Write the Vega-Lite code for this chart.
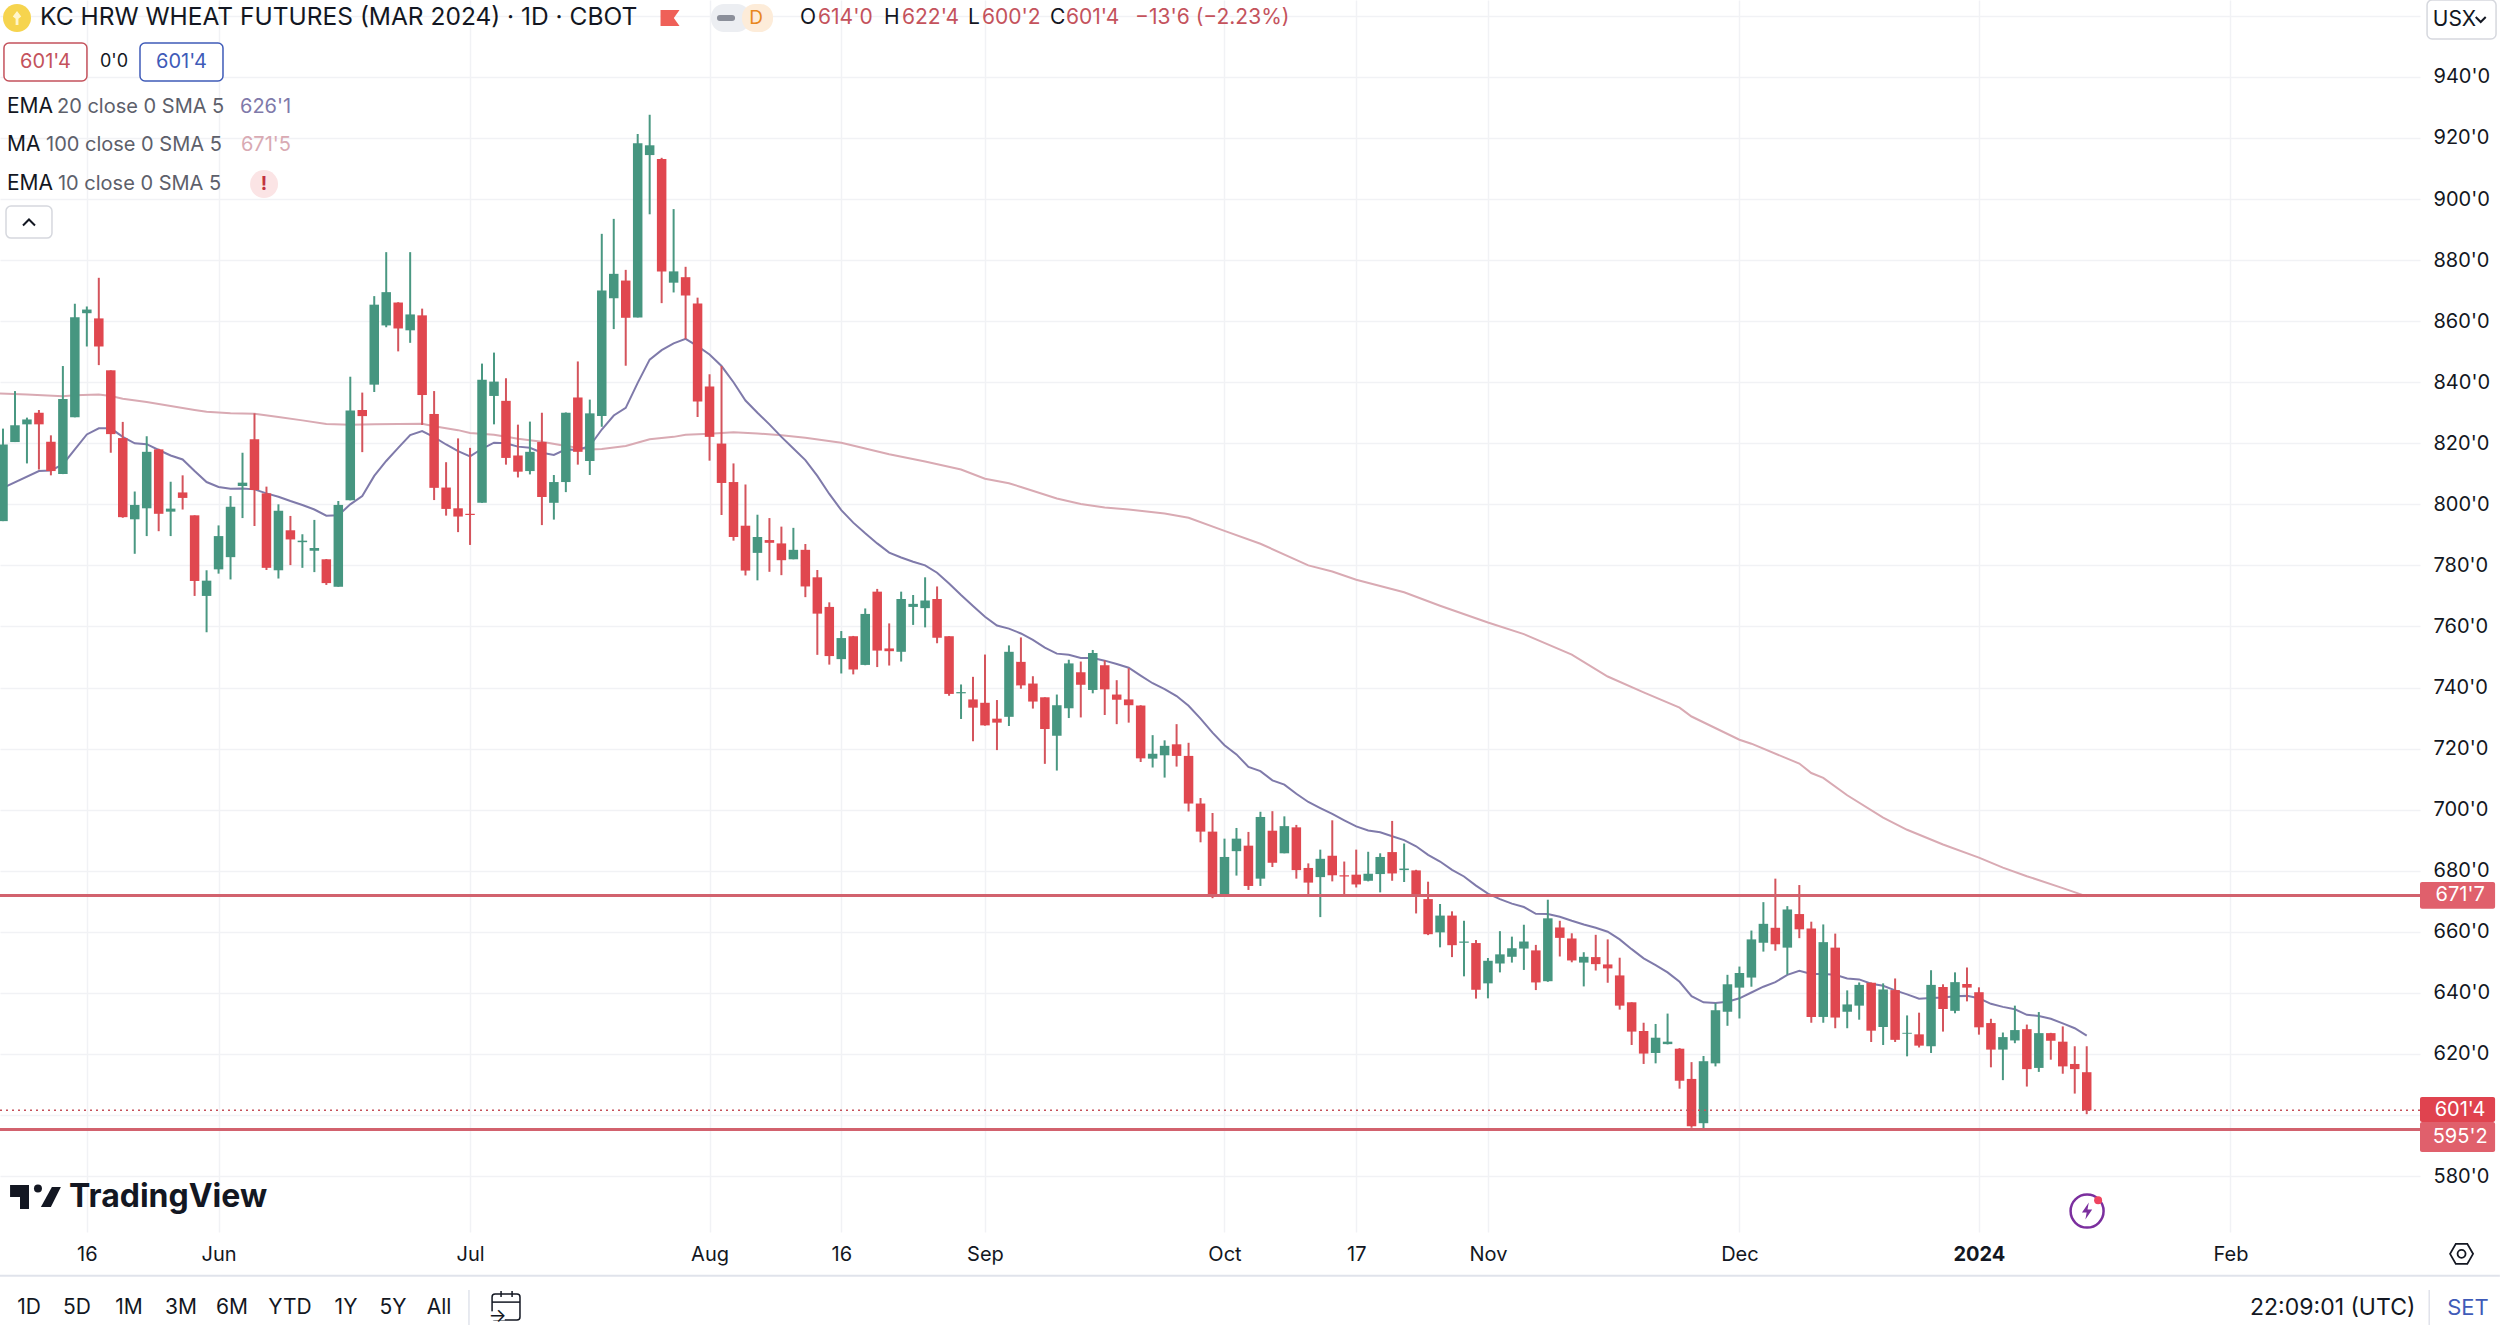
{
  "$schema": "https://vega.github.io/schema/vega-lite/v6.json",
  "width": 2420,
  "height": 1232,
  "autosize": "none",
  "padding": {"left": 0, "top": 0, "right": 80, "bottom": 105},
  "background": "#ffffff",
  "config": {"view": {"stroke": null}, "font": "Inter", "text": {"font": "Inter", "baseline": "middle"}},
  "datasets": {
    "candles": [
      {"bar":0,"open":794.5,"high":824.8,"low":794.5,"close":819.6},
      {"bar":1,"open":820.4,"high":837.1,"low":820.4,"close":825.9},
      {"bar":2,"open":826.2,"high":828.4,"low":813.4,"close":827.8},
      {"bar":3,"open":830,"high":830.9,"low":811.4,"close":826.2},
      {"bar":4,"open":820.5,"high":822.6,"low":809.5,"close":810.9},
      {"bar":5,"open":809.9,"high":845.3,"low":809.9,"close":834.5},
      {"bar":6,"open":828.5,"high":865.7,"low":828.5,"close":861.3},
      {"bar":7,"open":862.6,"high":864.8,"low":851.7,"close":863.8},
      {"bar":8,"open":860.9,"high":874.2,"low":845.6,"close":851.7},
      {"bar":9,"open":843.9,"high":843.9,"low":816.9,"close":823},
      {"bar":10,"open":821.7,"high":827,"low":795.6,"close":795.8},
      {"bar":11,"open":795.1,"high":804.2,"low":783.8,"close":799.8},
      {"bar":12,"open":798.7,"high":822.3,"low":789.6,"close":817.2},
      {"bar":13,"open":818,"high":818.2,"low":791.2,"close":796.9},
      {"bar":14,"open":797.6,"high":807.4,"low":789.6,"close":798.6},
      {"bar":15,"open":803.9,"high":809.5,"low":798.3,"close":802.1},
      {"bar":16,"open":796.4,"high":796.4,"low":770,"close":774.9},
      {"bar":17,"open":770,"high":778.4,"low":758.1,"close":775},
      {"bar":18,"open":778.7,"high":793.1,"low":777.3,"close":789.6},
      {"bar":19,"open":782.7,"high":802.7,"low":775.4,"close":799.2},
      {"bar":20,"open":806,"high":816.9,"low":795.5,"close":807.1},
      {"bar":21,"open":821.3,"high":829.8,"low":792.9,"close":804.7},
      {"bar":22,"open":803.6,"high":805.8,"low":778.5,"close":779.2},
      {"bar":23,"open":778.4,"high":800,"low":775.7,"close":797.9},
      {"bar":24,"open":791.5,"high":796.2,"low":780.1,"close":788.5},
      {"bar":25,"open":787.6,"high":790.2,"low":779.2,"close":788.1},
      {"bar":26,"open":784.8,"high":794.9,"low":777.8,"close":785.7},
      {"bar":27,"open":782,"high":782.1,"low":773.6,"close":774.2},
      {"bar":28,"open":773,"high":801.1,"low":773,"close":799.8},
      {"bar":29,"open":801.3,"high":841.8,"low":801.3,"close":830.7},
      {"bar":30,"open":830.9,"high":836.6,"low":817.1,"close":828.9},
      {"bar":31,"open":839.2,"high":868.2,"low":836.8,"close":865.4},
      {"bar":32,"open":858.6,"high":882.6,"low":858,"close":869.5},
      {"bar":33,"open":866.1,"high":866.2,"low":850.1,"close":857.6},
      {"bar":34,"open":857,"high":882.6,"low":852.9,"close":862.2},
      {"bar":35,"open":861.9,"high":864.1,"low":826,"close":835.8},
      {"bar":36,"open":829.6,"high":837.1,"low":801.4,"close":805.4},
      {"bar":37,"open":805.5,"high":813.8,"low":796.3,"close":798.5},
      {"bar":38,"open":798.7,"high":821.6,"low":790.9,"close":796},
      {"bar":39,"open":796.9,"high":818.5,"low":786.7,"close":796.5},
      {"bar":40,"open":800.5,"high":846.1,"low":800.5,"close":840.8},
      {"bar":41,"open":835.5,"high":849.7,"low":826.2,"close":840.2},
      {"bar":42,"open":833.9,"high":841.3,"low":813,"close":815.2},
      {"bar":43,"open":816,"high":826.1,"low":808.8,"close":810.7},
      {"bar":44,"open":810.9,"high":827.1,"low":809.8,"close":817.2},
      {"bar":45,"open":820.4,"high":830,"low":793.2,"close":802.4},
      {"bar":46,"open":800.5,"high":809.6,"low":795,"close":807.3},
      {"bar":47,"open":807.3,"high":830.1,"low":804,"close":830},
      {"bar":48,"open":835,"high":846.8,"low":813,"close":817.2},
      {"bar":49,"open":814.2,"high":834.3,"low":809.6,"close":829.8},
      {"bar":50,"open":828.9,"high":888.6,"low":825.4,"close":870},
      {"bar":51,"open":867.5,"high":893.5,"low":857.4,"close":875.5},
      {"bar":52,"open":873.3,"high":876.8,"low":845.4,"close":861.1},
      {"bar":53,"open":861.2,"high":921.3,"low":861.2,"close":918.3},
      {"bar":54,"open":914.4,"high":927.6,"low":895,"close":917.6},
      {"bar":55,"open":913.1,"high":913.5,"low":865.9,"close":876.3},
      {"bar":56,"open":872.6,"high":896.7,"low":869.4,"close":876.3},
      {"bar":57,"open":874.4,"high":877.8,"low":854.2,"close":868.4},
      {"bar":58,"open":865.8,"high":867.7,"low":828.6,"close":833.7},
      {"bar":59,"open":838.6,"high":842.6,"low":814.3,"close":822.1},
      {"bar":60,"open":819.9,"high":845.3,"low":796.5,"close":807},
      {"bar":61,"open":807.3,"high":813.4,"low":788.1,"close":789.3},
      {"bar":62,"open":793,"high":806.5,"low":776.7,"close":778.3},
      {"bar":63,"open":784.1,"high":796.6,"low":775.1,"close":789.3},
      {"bar":64,"open":788.3,"high":795.5,"low":777.9,"close":787.4},
      {"bar":65,"open":787.2,"high":792.7,"low":776.8,"close":781.7},
      {"bar":66,"open":782,"high":792.3,"low":782,"close":785.1},
      {"bar":67,"open":785.1,"high":787,"low":769.6,"close":773.1},
      {"bar":68,"open":776.1,"high":778.5,"low":750.7,"close":764.2},
      {"bar":69,"open":766.4,"high":767.9,"low":747.5,"close":750.3},
      {"bar":70,"open":749.3,"high":758.5,"low":744.6,"close":756.2},
      {"bar":71,"open":756.8,"high":756.9,"low":744.3,"close":745.9},
      {"bar":72,"open":747.4,"high":765.9,"low":747.3,"close":764.1},
      {"bar":73,"open":771.4,"high":772.3,"low":746.7,"close":752.1},
      {"bar":74,"open":752.8,"high":761,"low":747.2,"close":751.9},
      {"bar":75,"open":751.7,"high":771.4,"low":748.5,"close":769},
      {"bar":76,"open":766.4,"high":770.3,"low":760.5,"close":767.4},
      {"bar":77,"open":766,"high":776.1,"low":759.7,"close":768.5},
      {"bar":78,"open":769,"high":773.1,"low":754.5,"close":756.3},
      {"bar":79,"open":756.8,"high":756.8,"low":737.3,"close":737.9},
      {"bar":80,"open":738.1,"high":741,"low":729.7,"close":738.5},
      {"bar":81,"open":736.1,"high":743.5,"low":722.4,"close":733.4},
      {"bar":82,"open":735,"high":750.8,"low":727.5,"close":727.6},
      {"bar":83,"open":729.8,"high":735.9,"low":719.5,"close":728.5},
      {"bar":84,"open":730.4,"high":753.8,"low":727.4,"close":751.7},
      {"bar":85,"open":748.4,"high":756.4,"low":739.6,"close":740.7},
      {"bar":86,"open":741.3,"high":743.7,"low":733.1,"close":735.4},
      {"bar":87,"open":736.8,"high":736.8,"low":715,"close":726.4},
      {"bar":88,"open":724.2,"high":737.7,"low":712.8,"close":734.2},
      {"bar":89,"open":733.2,"high":749.1,"low":730,"close":747.9},
      {"bar":90,"open":745,"high":748.5,"low":730.2,"close":740.9},
      {"bar":91,"open":739.2,"high":752.3,"low":738.1,"close":751.3},
      {"bar":92,"open":747.3,"high":748.9,"low":731,"close":739.4},
      {"bar":93,"open":737.7,"high":742.4,"low":728,"close":736},
      {"bar":94,"open":736.1,"high":746.3,"low":728.5,"close":734.2},
      {"bar":95,"open":734.1,"high":734.2,"low":715.6,"close":716.8},
      {"bar":96,"open":716.7,"high":724.4,"low":713.8,"close":718.3},
      {"bar":97,"open":717.8,"high":722.7,"low":710.5,"close":720.9},
      {"bar":98,"open":721.4,"high":728,"low":714.1,"close":717.6},
      {"bar":99,"open":717.6,"high":721.9,"low":699.4,"close":702},
      {"bar":100,"open":702,"high":703.8,"low":689.3,"close":692.8},
      {"bar":101,"open":692.8,"high":698.9,"low":671,"close":671.9},
      {"bar":102,"open":671.9,"high":690.5,"low":671.9,"close":684.5},
      {"bar":103,"open":686.4,"high":694,"low":678.4,"close":690.5},
      {"bar":104,"open":688.2,"high":692.7,"low":673.7,"close":675},
      {"bar":105,"open":677.4,"high":699.3,"low":675,"close":697.6},
      {"bar":106,"open":693.1,"high":699.5,"low":681.2,"close":682.6},
      {"bar":107,"open":685.7,"high":697.8,"low":685.7,"close":694.6},
      {"bar":108,"open":694.2,"high":695,"low":677.4,"close":680.2},
      {"bar":109,"open":680.9,"high":682.4,"low":672.1,"close":676.1},
      {"bar":110,"open":677.9,"high":686.9,"low":664.8,"close":683.9},
      {"bar":111,"open":684.9,"high":696.5,"low":676.5,"close":678.5},
      {"bar":112,"open":678.5,"high":683,"low":672.1,"close":678.1},
      {"bar":113,"open":678.7,"high":686.9,"low":674.5,"close":675.5},
      {"bar":114,"open":676.7,"high":686.2,"low":676.5,"close":679},
      {"bar":115,"open":678.9,"high":685.7,"low":672.9,"close":684.5},
      {"bar":116,"open":686.1,"high":696.3,"low":676.7,"close":679.1},
      {"bar":117,"open":680.2,"high":688.9,"low":676.3,"close":680.7},
      {"bar":118,"open":680.1,"high":680.3,"low":666,"close":671.8},
      {"bar":119,"open":670.7,"high":676.4,"low":658.9,"close":659.2},
      {"bar":120,"open":659.8,"high":669.1,"low":654.9,"close":665.3},
      {"bar":121,"open":665.3,"high":666.7,"low":651.7,"close":655.6},
      {"bar":122,"open":656.4,"high":663.6,"low":645.4,"close":656.8},
      {"bar":123,"open":656.3,"high":657.3,"low":638.1,"close":641},
      {"bar":124,"open":643.1,"high":651.4,"low":638.2,"close":650.5},
      {"bar":125,"open":649.6,"high":660.2,"low":646.7,"close":652.6},
      {"bar":126,"open":651.8,"high":658.4,"low":649.9,"close":654.6},
      {"bar":127,"open":654.5,"high":662.3,"low":647.5,"close":656.8},
      {"bar":128,"open":653.9,"high":655.7,"low":640.9,"close":643.4},
      {"bar":129,"open":643.8,"high":670.5,"low":643.6,"close":664.4},
      {"bar":130,"open":661.4,"high":663.6,"low":651.9,"close":658},
      {"bar":131,"open":657.8,"high":659.5,"low":650,"close":650.6},
      {"bar":132,"open":649.9,"high":653.3,"low":642.1,"close":651.8},
      {"bar":133,"open":651.7,"high":659,"low":647.3,"close":649.4},
      {"bar":134,"open":649.3,"high":657.5,"low":643.3,"close":648},
      {"bar":135,"open":645.7,"high":651.5,"low":634.5,"close":635.8},
      {"bar":136,"open":636.9,"high":636.9,"low":622.9,"close":627.3},
      {"bar":137,"open":627.5,"high":630.2,"low":616.7,"close":620.1},
      {"bar":138,"open":620.3,"high":629.8,"low":616.9,"close":625.3},
      {"bar":139,"open":623.2,"high":633.2,"low":623.1,"close":624},
      {"bar":140,"open":621.7,"high":621.9,"low":608.6,"close":611.2},
      {"bar":141,"open":611.8,"high":617.3,"low":595.8,"close":596.3},
      {"bar":142,"open":597.3,"high":619.3,"low":594.8,"close":617.6},
      {"bar":143,"open":616.9,"high":636.6,"low":615.9,"close":634.3},
      {"bar":144,"open":633.8,"high":645.9,"low":629.2,"close":642.8},
      {"bar":145,"open":641.7,"high":648.6,"low":631.6,"close":646.5},
      {"bar":146,"open":645,"high":660.4,"low":642,"close":657.5},
      {"bar":147,"open":656.4,"high":669.7,"low":653.5,"close":662.6},
      {"bar":148,"open":661.3,"high":677.4,"low":653.8,"close":655.9},
      {"bar":149,"open":654.8,"high":668.4,"low":646,"close":667.3},
      {"bar":150,"open":665.8,"high":675.3,"low":657.9,"close":660.8},
      {"bar":151,"open":661.1,"high":663.3,"low":630.2,"close":632.1},
      {"bar":152,"open":632.1,"high":662.4,"low":630.2,"close":656.6},
      {"bar":153,"open":654.8,"high":659.4,"low":628.4,"close":631.9},
      {"bar":154,"open":633.8,"high":640.8,"low":628.4,"close":636.2},
      {"bar":155,"open":635.8,"high":643.4,"low":631.2,"close":642.6},
      {"bar":156,"open":643.3,"high":643.4,"low":623.9,"close":627.6},
      {"bar":157,"open":628.8,"high":643.1,"low":622.9,"close":641.1},
      {"bar":158,"open":640.9,"high":644.7,"low":623.9,"close":624.6},
      {"bar":159,"open":626.6,"high":632.6,"low":619.2,"close":626.9},
      {"bar":160,"open":626.4,"high":633.5,"low":622.1,"close":622.7},
      {"bar":161,"open":622.5,"high":647.4,"low":620.3,"close":642.6},
      {"bar":162,"open":641.9,"high":642.8,"low":627.3,"close":634.7},
      {"bar":163,"open":634.1,"high":646.7,"low":633.3,"close":643.5},
      {"bar":164,"open":642.9,"high":648.3,"low":637.2,"close":641.7},
      {"bar":165,"open":640.2,"high":641.8,"low":626.3,"close":628.7},
      {"bar":166,"open":630.1,"high":631.5,"low":615.6,"close":621.4},
      {"bar":167,"open":621.4,"high":627,"low":611.4,"close":625.5},
      {"bar":168,"open":624.4,"high":635.8,"low":623.5,"close":627.8},
      {"bar":169,"open":628.1,"high":629.6,"low":609.3,"close":615},
      {"bar":170,"open":615.4,"high":633.7,"low":614.1,"close":626.8},
      {"bar":171,"open":626.8,"high":626.9,"low":618.1,"close":624.3},
      {"bar":172,"open":624,"high":629,"low":613.5,"close":615.9},
      {"bar":173,"open":616.7,"high":622.5,"low":607,"close":615},
      {"bar":174,"open":614,"high":622.5,"low":600.25,"close":601.5}
    ],
    "ema20": [
      {"bar":-0.25,"price":804.8},{"bar":0,"price":805.4},{"bar":3,"price":810.9},{"bar":4,"price":811.1},{"bar":5,"price":813.1},{"bar":6,"price":818},{"bar":7,"price":822.9},{"bar":8,"price":824.9},{"bar":9,"price":824.9},{"bar":10,"price":822.1},
      {"bar":11,"price":820},{"bar":12,"price":819.7},{"bar":13,"price":817.8},{"bar":14,"price":816},{"bar":15,"price":814.7},{"bar":16,"price":810.9},{"bar":17,"price":807.3},{"bar":18,"price":805.7},{"bar":19,"price":805.1},{"bar":20,"price":805.2},
      {"bar":21,"price":804.9},{"bar":22,"price":803.6},{"bar":23,"price":802.5},{"bar":24,"price":801.1},{"bar":25,"price":799.8},{"bar":26,"price":798.3},{"bar":27,"price":796.3},{"bar":28,"price":796.4},{"bar":29,"price":800},{"bar":30,"price":802.7},
      {"bar":31,"price":809.3},{"bar":32,"price":814.2},{"bar":33,"price":818.5},{"bar":34,"price":822.7},{"bar":35,"price":824},{"bar":36,"price":822},{"bar":37,"price":819.6},{"bar":38,"price":817.4},{"bar":39,"price":815.7},{"bar":40,"price":818.2},
      {"bar":41,"price":820.2},{"bar":42,"price":820},{"bar":43,"price":818.9},{"bar":44,"price":818.5},{"bar":45,"price":816.9},{"bar":46,"price":816.2},{"bar":47,"price":818},{"bar":48,"price":817.8},{"bar":49,"price":819.1},{"bar":50,"price":824.5},
      {"bar":51,"price":829.1},{"bar":52,"price":831.6},{"bar":53,"price":839.8},{"bar":54,"price":847.4},{"bar":55,"price":850.5},{"bar":56,"price":852.7},{"bar":57,"price":854.2},{"bar":58,"price":851.8},{"bar":59,"price":849.1},{"bar":60,"price":845.3},
      {"bar":61,"price":840},{"bar":62,"price":834},{"bar":63,"price":830},{"bar":64,"price":826.2},{"bar":65,"price":822.1},{"bar":66,"price":818.3},{"bar":67,"price":814.5},{"bar":68,"price":809.3},{"bar":69,"price":803.4},{"bar":70,"price":798.1},
      {"bar":71,"price":794},{"bar":72,"price":790.5},{"bar":73,"price":787.2},{"bar":74,"price":784.2},{"bar":75,"price":782.6},{"bar":76,"price":781.2},{"bar":77,"price":780},{"bar":78,"price":777.6},{"bar":79,"price":774.1},{"bar":80,"price":770.3},
      {"bar":81,"price":766.7},{"bar":82,"price":763.2},{"bar":83,"price":760.3},{"bar":84,"price":759.3},{"bar":85,"price":757.7},{"bar":86,"price":755.6},{"bar":87,"price":753.1},{"bar":88,"price":751.1},{"bar":89,"price":750.7},{"bar":90,"price":749.7},
      {"bar":91,"price":749.7},{"bar":92,"price":748.8},{"bar":93,"price":747.7},{"bar":94,"price":746.5},{"bar":95,"price":743.9},{"bar":96,"price":741.4},{"bar":97,"price":739.5},{"bar":98,"price":737.2},{"bar":99,"price":734},{"bar":100,"price":729.8},
      {"bar":101,"price":725.2},{"bar":102,"price":721.1},{"bar":103,"price":718.1},{"bar":104,"price":714},{"bar":105,"price":712.6},{"bar":106,"price":709.6},{"bar":107,"price":708.2},{"bar":108,"price":705.2},{"bar":109,"price":702.5},{"bar":110,"price":700.5},
      {"bar":111,"price":698.6},{"bar":112,"price":696.5},{"bar":113,"price":694.5},{"bar":114,"price":693.2},{"bar":115,"price":692.6},{"bar":116,"price":691.3},{"bar":117,"price":690},{"bar":118,"price":688},{"bar":119,"price":685.2},{"bar":120,"price":683},
      {"bar":121,"price":680.3},{"bar":122,"price":678.1},{"bar":123,"price":675.1},{"bar":124,"price":672.5},{"bar":125,"price":670.7},{"bar":126,"price":669.2},{"bar":127,"price":668.1},{"bar":128,"price":665.9},{"bar":129,"price":665.8},{"bar":130,"price":664.9},
      {"bar":131,"price":663.6},{"bar":132,"price":662.4},{"bar":133,"price":661.3},{"bar":134,"price":660},{"bar":135,"price":657.5},{"bar":136,"price":654.3},{"bar":137,"price":651.3},{"bar":138,"price":649.1},{"bar":139,"price":646.7},{"bar":140,"price":643.6},
      {"bar":141,"price":638.9},{"bar":142,"price":636.9},{"bar":143,"price":636.7},{"bar":144,"price":637.1},{"bar":145,"price":638.2},{"bar":146,"price":640.1},{"bar":147,"price":642},{"bar":148,"price":643.5},{"bar":149,"price":645.9},{"bar":150,"price":647.2},
      {"bar":151,"price":646.2},{"bar":152,"price":646.2},{"bar":153,"price":645.9},{"bar":154,"price":644.7},{"bar":155,"price":644.4},{"bar":156,"price":643},{"bar":157,"price":642.3},{"bar":158,"price":640.8},{"bar":159,"price":639.5},{"bar":160,"price":638.1},
      {"bar":161,"price":638.3},{"bar":162,"price":638.5},{"bar":163,"price":638.9},{"bar":164,"price":639},{"bar":165,"price":638.2},{"bar":166,"price":636.4},{"bar":167,"price":635.4},{"bar":168,"price":634.6},{"bar":169,"price":632.8},{"bar":170,"price":632.4},
      {"bar":171,"price":631.5},{"bar":172,"price":630},{"bar":173,"price":628.4},{"bar":174,"price":626}
    ],
    "ma100": [
      {"bar":-0.25,"price":836.3},{"bar":2,"price":836},{"bar":5,"price":835.4},{"bar":6,"price":835.7},{"bar":8,"price":836},{"bar":9,"price":835.5},{"bar":10,"price":834.6},{"bar":12,"price":833.5},{"bar":14,"price":832.2},{"bar":16,"price":830.9},
      {"bar":17,"price":830.3},{"bar":19,"price":829.8},{"bar":21,"price":829.7},{"bar":23,"price":828.6},{"bar":25,"price":827.5},{"bar":27,"price":826.3},{"bar":29,"price":826.1},{"bar":31,"price":826.2},{"bar":33,"price":826.3},{"bar":35,"price":826.4},
      {"bar":36,"price":825.6},{"bar":38,"price":824.3},{"bar":39,"price":823.4},{"bar":41,"price":822.8},{"bar":43,"price":821.5},{"bar":45,"price":820.5},{"bar":47,"price":819.1},{"bar":49,"price":818},{"bar":50,"price":818.1},{"bar":52,"price":819.1},
      {"bar":54,"price":821.3},{"bar":56,"price":822.1},{"bar":57,"price":822.8},{"bar":59,"price":823.1},{"bar":61,"price":823.6},{"bar":63,"price":823.2},{"bar":65,"price":822.6},{"bar":67,"price":821.8},{"bar":70,"price":820.2},{"bar":72,"price":818.3},
      {"bar":74,"price":816.4},{"bar":77,"price":814},{"bar":80,"price":811.4},{"bar":82,"price":808.4},{"bar":84,"price":806.9},{"bar":85,"price":805.7},{"bar":88,"price":801.9},{"bar":90,"price":800.1},{"bar":92,"price":799},{"bar":94,"price":798.3},
      {"bar":97,"price":797},{"bar":99,"price":795.6},{"bar":102,"price":791.3},{"bar":105,"price":787.1},{"bar":109,"price":780},{"bar":111,"price":778},{"bar":113,"price":775.3},{"bar":117,"price":771.2},{"bar":120,"price":766.8},{"bar":124,"price":761.3},
      {"bar":127,"price":757.5},{"bar":131,"price":750.8},{"bar":134,"price":743.6},{"bar":137,"price":738.4},{"bar":140,"price":733.4},{"bar":141,"price":730.5},{"bar":145,"price":722.9},{"bar":146,"price":721.6},{"bar":149,"price":716.7},{"bar":150,"price":715.1},
      {"bar":151,"price":712},{"bar":152,"price":710.4},{"bar":154,"price":704.7},{"bar":157,"price":697.4},{"bar":159,"price":693.4},{"bar":162,"price":688.6},{"bar":165,"price":684.3},{"bar":167,"price":681},{"bar":169,"price":678.2},{"bar":172,"price":674.3},
      {"bar":174,"price":671.6}
    ]
  },
  "data": {"name": "candles"},
  "encoding": {
    "x": {
      "field": "bar",
      "type": "quantitative",
      "scale": {"domain": [-0.2505, 201.83], "nice": false, "zero": false, "padding": 0},
      "axis": {
        "title": null,
        "values": [7, 18, 39, 59, 70, 82, 102, 113, 124, 145, 165, 186],
        "labelExpr": "{'7':'16','18':'Jun','39':'Jul','59':'Aug','70':'16','82':'Sep','102':'Oct','113':'17','124':'Nov','145':'Dec','165':'2024','186':'Feb'}[datum.value]",
        "grid": true,
        "gridColor": "#f1f2f5",
        "gridWidth": 1.5,
        "ticks": false,
        "domain": false,
        "labelFont": "Inter",
        "labelFontSize": 20,
        "labelColor": "#131722",
        "labelPadding": 12,
        "labelOverlap": false,
        "labelFlush": false,
        "labelFontWeight": {"condition": {"test": "datum.value == 165", "value": "bold"}, "value": "normal"}
      }
    },
    "y": {
      "field": "price",
      "type": "quantitative",
      "scale": {"domain": [561.66, 965.19], "nice": false, "zero": false},
      "axis": {
        "title": null,
        "orient": "right",
        "values": [580, 600, 620, 640, 660, 680, 700, 720, 740, 760, 780, 800, 820, 840, 860, 880, 900, 920, 940, 960],
        "labelExpr": "datum.value == 600 || datum.value == 960 ? '' : format(datum.value, 'd') + \"'0\"",
        "grid": true,
        "gridColor": "#f1f2f5",
        "gridWidth": 1.5,
        "ticks": false,
        "domain": false,
        "labelFont": "Inter",
        "labelFontSize": 20,
        "labelColor": "#131722",
        "labelPadding": 13,
        "labelOverlap": false,
        "labelFlush": false
      }
    }
  },
  "layer": [
    {
      "data": {"name": "ma100"},
      "mark": {"type": "line", "color": "#d9aab3", "strokeWidth": 2}
    },
    {
      "data": {"name": "ema20"},
      "mark": {"type": "line", "color": "#7f7aaa", "strokeWidth": 2}
    },
    {
      "mark": {"type": "rule", "strokeWidth": 2},
      "encoding": {
        "y": {
          "field": "low",
          "type": "quantitative",
          "axis": {
            "title": null,
            "orient": "right",
            "values": [580, 600, 620, 640, 660, 680, 700, 720, 740, 760, 780, 800, 820, 840, 860, 880, 900, 920, 940, 960],
            "labelExpr": "datum.value == 600 || datum.value == 960 ? '' : format(datum.value, 'd') + \"'0\"",
            "grid": true,
            "gridColor": "#f1f2f5",
            "gridWidth": 1.5,
            "ticks": false,
            "domain": false,
            "labelFont": "Inter",
            "labelFontSize": 20,
            "labelColor": "#131722",
            "labelPadding": 13,
            "labelOverlap": false,
            "labelFlush": false
          }
        },
        "y2": {"field": "high"},
        "color": {"condition": {"test": "datum.close >= datum.open", "value": "#4a9882"}, "value": "#d4545c"}
      }
    },
    {
      "mark": {"type": "bar", "size": 9.5},
      "encoding": {
        "y": {
          "field": "open",
          "type": "quantitative",
          "axis": {
            "title": null,
            "orient": "right",
            "values": [580, 600, 620, 640, 660, 680, 700, 720, 740, 760, 780, 800, 820, 840, 860, 880, 900, 920, 940, 960],
            "labelExpr": "datum.value == 600 || datum.value == 960 ? '' : format(datum.value, 'd') + \"'0\"",
            "grid": true,
            "gridColor": "#f1f2f5",
            "gridWidth": 1.5,
            "ticks": false,
            "domain": false,
            "labelFont": "Inter",
            "labelFontSize": 20,
            "labelColor": "#131722",
            "labelPadding": 13,
            "labelOverlap": false,
            "labelFlush": false
          }
        },
        "y2": {"field": "close"},
        "color": {"condition": {"test": "datum.close >= datum.open", "value": "#469680"}, "value": "#e0474f"}
      }
    },
    {
      "data": {"values": [{"bar": -0.2505, "end": 201.83, "price": 671.875}, {"bar": -0.2505, "end": 201.83, "price": 595.25}]},
      "mark": {"type": "rule", "color": "#d2626e", "strokeWidth": 3},
      "encoding": {"x2": {"field": "end"}}
    },
    {
      "data": {"values": [{"bar": -0.2505, "end": 201.83, "price": 601.5}]},
      "mark": {"type": "rule", "color": "#c5505a", "strokeWidth": 1.5, "strokeDash": [2, 4]},
      "encoding": {"x2": {"field": "end"}}
    },
    {
      "data": {"values": [{"bar": -0.2505, "end": 208.5, "price": 547.3}]},
      "mark": {"type": "rule", "color": "#e0e3eb", "strokeWidth": 2},
      "encoding": {"x2": {"field": "end"}}
    },
    {
      "data": {"values": [
        {"bar": 201.83, "end": 208.1, "price": 676.3, "price2": 667.5, "tag": "a"},
        {"bar": 201.83, "end": 208.1, "price": 597.7, "price2": 587.9, "tag": "a"},
        {"bar": 201.83, "end": 208.1, "price": 605.9, "price2": 597.7, "tag": "b"}
      ]},
      "mark": {"type": "rect", "cornerRadius": 2},
      "encoding": {
        "x2": {"field": "end"},
        "y2": {"field": "price2"},
        "color": {"field": "tag", "type": "nominal", "legend": null, "scale": {"domain": ["a", "b"], "range": ["#e0606c", "#e0434f"]}}
      }
    },
    {
      "data": {"values": [
        {"label": "671'7", "bar": 205.18, "price": 672},
        {"label": "601'4", "bar": 205.18, "price": 601.6},
        {"label": "595'2", "bar": 205.18, "price": 592.8}
      ]},
      "mark": {"type": "text", "fontSize": 20, "color": "#ffffff", "align": "center"},
      "encoding": {"text": {"field": "label"}}
    },
    {
      "data": {"values": [
        {"bar": 0.08, "end": 7.01, "price": 951.1, "price2": 938.7, "edge": "red"},
        {"bar": 11.44, "end": 18.37, "price": 951.1, "price2": 938.7, "edge": "blue"},
        {"bar": 0.25, "end": 4.09, "price": 897.7, "price2": 887.2, "edge": "grey"},
        {"bar": 202.42, "end": 208.18, "price": 965.19, "price2": 952.4, "edge": "grey"}
      ]},
      "mark": {"type": "rect", "fill": "#ffffff", "strokeWidth": 1.5, "cornerRadius": 5},
      "encoding": {
        "x2": {"field": "end"},
        "y2": {"field": "price2"},
        "stroke": {"field": "edge", "type": "nominal", "legend": null, "scale": {"domain": ["red", "blue", "grey"], "range": ["#c4525c", "#3f5bb8", "#d6d8de"]}}
      }
    },
    {
      "data": {"values": [
        {"label": "KC HRW WHEAT FUTURES (MAR 2024) · 1D · CBOT", "bar": 3.09, "price": 959.3}
      ]},
      "mark": {"type": "text", "fontSize": 24.5, "color": "#131722", "align": "left"},
      "encoding": {"text": {"field": "label"}}
    },
    {
      "data": {"values": [
        {"label": "O", "bar": 66.56, "price": 959.3},
        {"label": "H", "bar": 73.57, "price": 959.3},
        {"label": "L", "bar": 80.58, "price": 959.3},
        {"label": "C", "bar": 87.43, "price": 959.3},
        {"label": "EMA", "bar": 0.33, "price": 930.1},
        {"label": "MA", "bar": 0.33, "price": 917.7},
        {"label": "EMA", "bar": 0.33, "price": 904.9},
        {"label": "USX", "bar": 202.9, "price": 958.8}
      ]},
      "mark": {"type": "text", "fontSize": 21, "color": "#131722", "align": "left"},
      "encoding": {"text": {"field": "label"}}
    },
    {
      "data": {"values": [{"label": "22:09:01 (UTC)", "bar": 187.64, "price": 536.8}]},
      "mark": {"type": "text", "fontSize": 23, "color": "#131722", "align": "left"},
      "encoding": {"text": {"field": "label"}}
    },
    {
      "data": {"values": [
        {"label": "614'0", "bar": 68.06, "price": 959.3},
        {"label": "622'4", "bar": 75.07, "price": 959.3},
        {"label": "600'2", "bar": 81.75, "price": 959.3},
        {"label": "601'4", "bar": 88.77, "price": 959.3},
        {"label": "−13'6 (−2.23%)", "bar": 94.53, "price": 959.3}
      ]},
      "mark": {"type": "text", "fontSize": 21, "color": "#c4525c", "align": "left"},
      "encoding": {"text": {"field": "label"}}
    },
    {
      "data": {"values": [{"label": "601'4", "bar": 3.55, "price": 944.9}]},
      "mark": {"type": "text", "fontSize": 20, "color": "#c4525c", "align": "center"},
      "encoding": {"text": {"field": "label"}}
    },
    {
      "data": {"values": [{"label": "0'0", "bar": 9.27, "price": 944.9}]},
      "mark": {"type": "text", "fontSize": 18, "color": "#131722", "align": "center"},
      "encoding": {"text": {"field": "label"}}
    },
    {
      "data": {"values": [{"label": "601'4", "bar": 14.9, "price": 944.9}]},
      "mark": {"type": "text", "fontSize": 20, "color": "#3f5bb8", "align": "center"},
      "encoding": {"text": {"field": "label"}}
    },
    {
      "data": {"values": [
        {"label": "20 close 0 SMA 5", "bar": 4.51, "price": 930.1},
        {"label": "100 close 0 SMA 5", "bar": 3.59, "price": 917.7},
        {"label": "10 close 0 SMA 5", "bar": 4.59, "price": 904.9}
      ]},
      "mark": {"type": "text", "fontSize": 20, "color": "#5d606b", "align": "left"},
      "encoding": {"text": {"field": "label"}}
    },
    {
      "data": {"values": [{"label": "626'1", "bar": 19.79, "price": 930.1}]},
      "mark": {"type": "text", "fontSize": 20, "color": "#7f7aaa", "align": "left"},
      "encoding": {"text": {"field": "label"}}
    },
    {
      "data": {"values": [{"label": "671'5", "bar": 19.87, "price": 917.7}]},
      "mark": {"type": "text", "fontSize": 20, "color": "#d9aab3", "align": "left"},
      "encoding": {"text": {"field": "label"}}
    },
    {
      "data": {"values": [{"bar": 21.8, "price": 904.9}]},
      "mark": {"type": "point", "shape": "circle", "filled": true, "size": 784, "color": "#fbe4e5", "opacity": 1}
    },
    {
      "data": {"values": [{"label": "!", "bar": 21.8, "price": 904.9}]},
      "mark": {"type": "text", "fontSize": 19, "fontWeight": "bold", "color": "#c2333f", "align": "center"},
      "encoding": {"text": {"field": "label"}}
    },
    {
      "data": {"values": [{"bar": 2.17, "price": 892.3}]},
      "mark": {"type": "point", "shape": "M-1,0.5L0,-0.5L1,0.5", "filled": false, "size": 144, "color": "#131722", "strokeWidth": 2, "opacity": 1}
    },
    {
      "data": {"values": [{"bar": 1.17, "price": 959.3}]},
      "mark": {"type": "point", "shape": "circle", "filled": true, "size": 784, "color": "#f6d44e", "opacity": 1}
    },
    {
      "data": {"values": [{"bar": 1.17, "price": 959.3}]},
      "mark": {"type": "point", "shape": "M0,-1L0.6,-0.2L0.2,0.1L0.2,1L-0.2,1L-0.2,0.1L-0.6,-0.2Z", "filled": true, "size": 196, "color": "#fff6cc", "opacity": 1}
    },
    {
      "data": {"values": [{"bar": 55.7, "price": 959.3}]},
      "mark": {"type": "point", "shape": "M-1,-0.85L1,-0.85L0.4,0L1,0.85L-1,0.85Z", "filled": true, "size": 361, "color": "#ef6058", "opacity": 1}
    },
    {
      "data": {"values": [{"bar": 59.12, "end": 62.38, "price": 963.9, "price2": 954.7}]},
      "mark": {"type": "rect", "color": "#eceef2", "cornerRadius": 13},
      "encoding": {"x2": {"field": "end"}, "y2": {"field": "price2"}}
    },
    {
      "data": {"values": [{"bar": 61.71, "end": 64.3, "price": 963.9, "price2": 954.7}]},
      "mark": {"type": "rect", "color": "#fdecd9", "cornerRadius": 13},
      "encoding": {"x2": {"field": "end"}, "y2": {"field": "price2"}}
    },
    {
      "data": {"values": [{"bar": 59.87, "end": 60.88, "price": 959.3}]},
      "mark": {"type": "rule", "color": "#8b8f9a", "strokeWidth": 6, "strokeCap": "round"},
      "encoding": {"x2": {"field": "end"}}
    },
    {
      "data": {"values": [{"label": "D", "bar": 62.88, "price": 959.3}]},
      "mark": {"type": "text", "fontSize": 19, "color": "#e8871e", "align": "center"},
      "encoding": {"text": {"field": "label"}}
    },
    {
      "data": {"values": [{"bar": 206.9, "price": 958.8}]},
      "mark": {"type": "point", "shape": "M-1,-0.5L0,0.5L1,-0.5", "filled": false, "size": 100, "color": "#131722", "strokeWidth": 2, "opacity": 1}
    },
    {
      "data": {"values": [
        {"label": "1D", "bar": 2.17, "price": 536.8},
        {"label": "5D", "bar": 6.18, "price": 536.8},
        {"label": "1M", "bar": 10.52, "price": 536.8},
        {"label": "3M", "bar": 14.86, "price": 536.8},
        {"label": "6M", "bar": 19.12, "price": 536.8},
        {"label": "YTD", "bar": 23.97, "price": 536.8},
        {"label": "1Y", "bar": 28.64, "price": 536.8},
        {"label": "5Y", "bar": 32.57, "price": 536.8},
        {"label": "All", "bar": 36.41, "price": 536.8}
      ]},
      "mark": {"type": "text", "fontSize": 21, "color": "#131722", "align": "center"},
      "encoding": {"text": {"field": "label"}}
    },
    {
      "data": {"values": [{"label": "SET", "bar": 204.1, "price": 536.8}]},
      "mark": {"type": "text", "fontSize": 22, "color": "#3f5bb8", "align": "left"},
      "encoding": {"text": {"field": "label"}}
    },
    {
      "data": {"values": [{"bar": 38.91, "price": 542.7, "price2": 531.2}, {"bar": 202.6, "price": 542.7, "price2": 531.2}]},
      "mark": {"type": "rule", "color": "#e0e3eb", "strokeWidth": 1.5},
      "encoding": {"y2": {"field": "price2"}}
    },
    {
      "data": {"values": [{"bar": 40.84, "end": 43.17, "price": 541.35, "price2": 532.8}]},
      "mark": {"type": "rect", "fill": "#ffffff", "stroke": "#131722", "strokeWidth": 1.5, "cornerRadius": 3},
      "encoding": {"x2": {"field": "end"}, "y2": {"field": "price2"}}
    },
    {
      "data": {"values": [{"bar": 40.84, "end": 43.17, "price": 538.7}]},
      "mark": {"type": "rule", "color": "#131722", "strokeWidth": 1.5},
      "encoding": {"x2": {"field": "end"}}
    },
    {
      "data": {"values": [{"bar": 41.59, "price": 542.3, "price2": 540.35}, {"bar": 42.51, "price": 542.3, "price2": 540.35}]},
      "mark": {"type": "rule", "color": "#131722", "strokeWidth": 1.5},
      "encoding": {"y2": {"field": "price2"}}
    },
    {
      "data": {"values": [{"bar": 40.6, "end": 41.9, "price": 534.2}]},
      "mark": {"type": "rule", "color": "#ffffff", "strokeWidth": 9},
      "encoding": {"x2": {"field": "end"}}
    },
    {
      "data": {"values": [{"label": "→", "bar": 41.3, "price": 534.2}]},
      "mark": {"type": "text", "fontSize": 19, "color": "#131722", "align": "center"},
      "encoding": {"text": {"field": "label"}}
    },
    {
      "data": {"values": [{"bar": 205.3, "price": 554.5}]},
      "mark": {"type": "point", "shape": "M-1,0L-0.5,-0.87L0.5,-0.87L1,0L0.5,0.87L-0.5,0.87Z", "filled": false, "size": 529, "color": "#131722", "strokeWidth": 1.8, "opacity": 1}
    },
    {
      "data": {"values": [{"bar": 205.3, "price": 554.5}]},
      "mark": {"type": "point", "shape": "circle", "filled": false, "size": 64, "color": "#131722", "strokeWidth": 1.8, "opacity": 1}
    },
    {
      "data": {"values": [{"bar": 174.03, "price": 568.5}]},
      "mark": {"type": "point", "shape": "circle", "filled": false, "size": 1089, "color": "#7b2f9e", "strokeWidth": 2.5, "opacity": 1}
    },
    {
      "data": {"values": [{"bar": 174.03, "price": 568.5}]},
      "mark": {"type": "point", "shape": "M0.2,-1L-0.6,0.15L-0.05,0.15L-0.2,1L0.6,-0.2L0.05,-0.2Z", "filled": true, "size": 289, "color": "#7b2f9e", "opacity": 1}
    },
    {
      "data": {"values": [{"bar": 174.95, "price": 572.1}]},
      "mark": {"type": "point", "shape": "circle", "filled": true, "size": 64, "color": "#ef4560", "opacity": 1}
    },
    {
      "data": {"values": [{"label": "TradingView", "bar": 5.51, "price": 573.1}]},
      "mark": {"type": "text", "fontSize": 32, "fontWeight": "bold", "color": "#131722", "align": "left"},
      "encoding": {"text": {"field": "label"}}
    },
    {
      "data": {"values": [
        {"bar": 0.59, "end": 2.17, "price": 577.05, "price2": 573.1},
        {"bar": 1.42, "end": 2.17, "price": 577.05, "price2": 569.2}
      ]},
      "mark": {"type": "rect", "color": "#131722"},
      "encoding": {"x2": {"field": "end"}, "y2": {"field": "price2"}}
    },
    {
      "data": {"values": [{"bar": 2.92, "price": 575.9}]},
      "mark": {"type": "point", "shape": "circle", "filled": true, "size": 64, "color": "#131722", "opacity": 1}
    },
    {
      "data": {"values": [{"bar": 4.0, "price": 573.1}]},
      "mark": {"type": "point", "shape": "M0.1,-1L1,-1L0,1L-1,1Z", "filled": true, "size": 400, "color": "#131722", "opacity": 1}
    }
  ]
}
